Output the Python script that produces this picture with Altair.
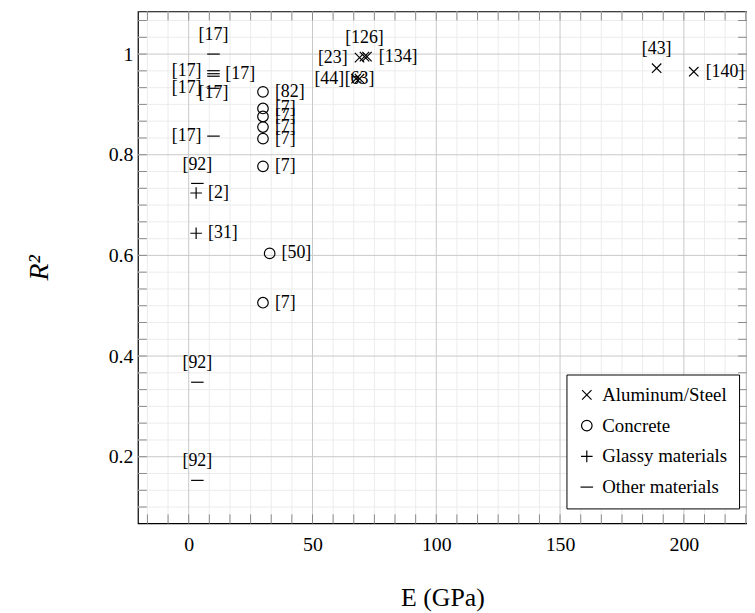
import altair as alt
import pandas as pd

# ---------------- data ----------------
CATEGORIES = ["Aluminum/Steel", "Concrete", "Glassy materials", "Other materials"]

AL_E = [69, 71, 72, 67.6, 69, 189, 204]
AL_R2 = [0.993, 0.995, 0.995, 0.951, 0.951, 0.972, 0.965]
AL_LABEL = ["[23]", "[126]", "[134]", "[44]", "[63]", "[43]", "[140]"]
AL_POS = ["left", "above", "right", "left", "center", "above", "right"]

CO_E = [30, 30, 30, 30, 30, 30, 32.7, 30]
CO_R2 = [0.925, 0.892, 0.876, 0.855, 0.832, 0.777, 0.604, 0.506]
CO_LABEL = ["[82]", "[7]", "[7]", "[7]", "[7]", "[7]", "[50]", "[7]"]
CO_POS = ["right"] * 8

GL_E = [3, 3]
GL_R2 = [0.724, 0.644]
GL_LABEL = ["[2]", "[31]"]
GL_POS = ["right", "right"]

OT_E = [10, 10, 10, 10, 10, 10, 3.5, 3.5, 3.5]
OT_R2 = [1.0, 0.967, 0.961, 0.956, 0.932, 0.837, 0.743, 0.348, 0.153]
OT_LABEL = ["[17]", "[17]", "[17]", "[17]", "[17]", "[17]", "[92]", "[92]", "[92]"]
OT_POS = ["above", "left", "right", "below", "left", "left", "above", "above", "above"]

X_MAJOR = [0, 50, 100, 150, 200]
X_MINOR = [-16.667, -8.333, 8.333, 16.667, 25, 33.333, 41.667, 58.333, 66.667, 75,
           83.333, 91.667, 108.333, 116.667, 125, 133.333, 141.667, 158.333, 166.667,
           175, 183.333, 191.667, 208.333, 216.667, 225]
Y_MAJOR = [0.2, 0.4, 0.6, 0.8, 1.0]
Y_MINOR = [0.1, 0.1333, 0.1667, 0.2333, 0.2667, 0.3, 0.3333, 0.3667, 0.4333, 0.4667,
           0.5, 0.5333, 0.5667, 0.6333, 0.6667, 0.7, 0.7333, 0.7667, 0.8333, 0.8667,
           0.9, 0.9333, 0.9667, 1.0333, 1.0667]

X_DOMAIN = [-20.5, 225.5]
Y_DOMAIN = [0.0677, 1.0847]

# ---------------- build tables ----------------
rows = []
for cat, es, rs, ls, ps in [
    (CATEGORIES[0], AL_E, AL_R2, AL_LABEL, AL_POS),
    (CATEGORIES[1], CO_E, CO_R2, CO_LABEL, CO_POS),
    (CATEGORIES[2], GL_E, GL_R2, GL_LABEL, GL_POS),
    (CATEGORIES[3], OT_E, OT_R2, OT_LABEL, OT_POS),
]:
    for e, r, l, p in zip(es, rs, ls, ps):
        rows.append({"E": e, "R2": r, "cat": cat, "label": l, "pos": p})
df = pd.DataFrame(rows)

W, H = 614, 516
FONT = "Liberation Serif"
TICK_LEN = 9

xs = alt.Scale(domain=X_DOMAIN, nice=False, zero=False)
ys = alt.Scale(domain=Y_DOMAIN, nice=False, zero=False)

XAXIS = alt.Axis(
    values=X_MAJOR, grid=False, ticks=False, domain=False, labelFont=FONT,
    labelFontSize=20, labelColor="black", labelPadding=11, title="E (GPa)",
    titleFont=FONT, titleFontSize=26, titleFontWeight="normal", titleColor="black",
    titlePadding=31)
YAXIS = alt.Axis(
    values=Y_MAJOR, format=".1~f", grid=False, ticks=False, domain=False, labelFont=FONT,
    labelFontSize=20, labelColor="black", labelPadding=5, title="R²",
    titleFont=FONT, titleFontSize=28, titleFontWeight="normal", titleFontStyle="italic",
    titleColor="black", titlePadding=55)

def X(field):
    return alt.X(field, scale=xs, axis=XAXIS)

def Y(field):
    return alt.Y(field, scale=ys, axis=YAXIS)

x_minor = pd.DataFrame({"v": X_MINOR})
x_major = pd.DataFrame({"v": X_MAJOR})
y_minor = pd.DataFrame({"v": Y_MINOR})
y_major = pd.DataFrame({"v": Y_MAJOR})
x_all = pd.DataFrame({"v": X_MINOR + X_MAJOR})
y_all = pd.DataFrame({"v": Y_MINOR + Y_MAJOR})

def vgrid(d, color):
    return alt.Chart(d).mark_rule(color=color, strokeWidth=1).encode(x=X("v:Q"))

def hgrid(d, color):
    return alt.Chart(d).mark_rule(color=color, strokeWidth=1).encode(y=Y("v:Q"))

TICK_COLOR = "#8a8a8a"
ticks = [
    alt.Chart(x_all).mark_rule(color=TICK_COLOR).encode(
        x=X("v:Q"), y=alt.value(H), y2=alt.value(H - TICK_LEN)),
    alt.Chart(x_all).mark_rule(color=TICK_COLOR).encode(
        x=X("v:Q"), y=alt.value(0), y2=alt.value(TICK_LEN)),
    alt.Chart(y_all).mark_rule(color=TICK_COLOR).encode(
        y=Y("v:Q"), x=alt.value(0), x2=alt.value(TICK_LEN)),
    alt.Chart(y_all).mark_rule(color=TICK_COLOR).encode(
        y=Y("v:Q"), x=alt.value(W), x2=alt.value(W - TICK_LEN)),
]

SHAPES = [
    "M-1,-1L1,1M-1,1L1,-1",   # x
    "circle",                # o
    "M-1,0L1,0M0,-1L0,1",    # +
    "M-1,0L1,0",             # -
]
SIZES = [90, 160, 170, 144]

legend = alt.Legend(
    title=None, orient="none", legendX=432, legendY=366,
    fillColor="white", strokeColor="black", padding=11,
    labelFont=FONT, labelFontSize=19, labelColor="black", labelOffset=6,
    symbolStrokeColor="black", symbolFillColor="transparent", symbolStrokeWidth=1.2,
    rowPadding=11, cornerRadius=0,
)

points = alt.Chart(df).mark_point(filled=False, color="black", strokeWidth=1.2, opacity=1).encode(
    x=X("E:Q"),
    y=Y("R2:Q"),
    shape=alt.Shape("cat:N", scale=alt.Scale(domain=CATEGORIES, range=SHAPES), legend=legend),
    size=alt.Size("cat:N", scale=alt.Scale(domain=CATEGORIES, range=SIZES), legend=legend),
)

def labels(pos, **kw):
    return alt.Chart(df).transform_filter(alt.datum.pos == pos).mark_text(
        font=FONT, fontSize=18, color="black", **kw).encode(
        x=X("E:Q"), y=Y("R2:Q"), text="label:N")

label_layers = [
    labels("left", align="right", baseline="middle", dx=-12),
    labels("right", align="left", baseline="middle", dx=12),
    labels("above", align="center", baseline="middle", dy=-19),
    labels("below", align="center", baseline="middle", dy=17),
    labels("center", align="center", baseline="middle"),
]

chart = alt.layer(
    vgrid(x_minor, "#ececec"), hgrid(y_minor, "#ececec"),
    vgrid(x_major, "#c8c8c8"), hgrid(y_major, "#c8c8c8"),
    *ticks, points, *label_layers,
).properties(
    width=W, height=H,
    autosize=alt.AutoSizeParams(type="none"),
    padding={"left": 131, "top": 1, "right": 0, "bottom": 95},
).configure(background="white").configure_view(stroke="black", strokeWidth=1.2)

chart.save("out.html", embed_options={"renderer": "svg", "actions": False})
